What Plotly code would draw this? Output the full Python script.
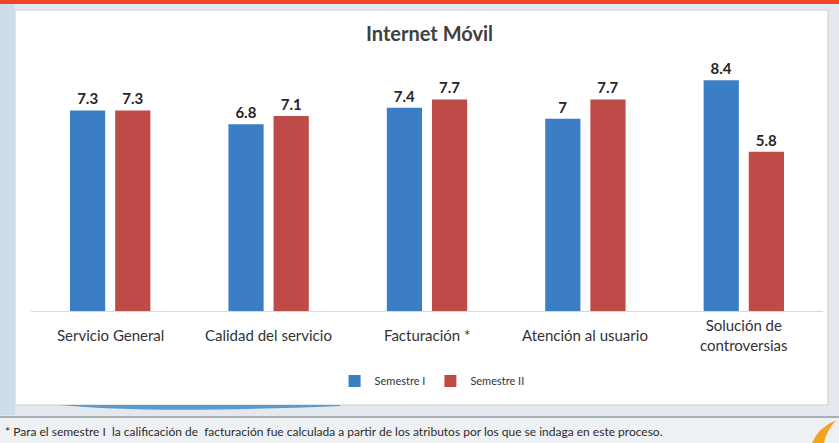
import plotly.graph_objects as go

W, H = 839, 443

categorias = ["Servicio General", "Calidad del servicio", "Facturación *",
              "Atención al usuario", "Solución de<br>controversias"]
semestre_1 = [7.3, 6.8, 7.4, 7.0, 8.4]
semestre_2 = [7.3, 7.1, 7.7, 7.7, 5.8]
series = ["Semestre I", "Semestre II"]

AZUL = "#3C7EC6"
ROJO = "#BE4B48"
FONT = "Lato"


def px(x):
    return x / W


def py(y):
    return 1 - y / H


fig = go.Figure()

for nombre, valores, color in [(series[0], semestre_1, AZUL), (series[1], semestre_2, ROJO)]:
    fig.add_trace(go.Bar(
        x=categorias, y=valores, name=nombre,
        marker=dict(color=color, line=dict(width=0)),
        text=[f"{v:g}" for v in valores],
        textposition="outside",
        textfont=dict(family=FONT, size=15, color="#262626", weight="bold"),
        cliponaxis=False,
    ))

# category labels centred below the baseline
for c in categorias:
    fig.add_annotation(x=c, y=0, xref="x", yref="y", yshift=-24,
                       text=c, showarrow=False, yanchor="middle",
                       font=dict(family=FONT, size=15, color="#333333"))

shapes = [
    # white chart panel
    dict(type="rect", xref="paper", yref="paper", layer="below",
         x0=px(15), x1=px(828), y0=py(405), y1=py(10),
         fillcolor="white", line=dict(color="#c8ccd0", width=1)),
    # red strip at the top
    dict(type="rect", xref="paper", yref="paper", layer="below",
         x0=0, x1=1, y0=py(4), y1=1, fillcolor="#EE4524", line=dict(width=0)),
    # left light blue strip
    dict(type="rect", xref="paper", yref="paper", layer="below",
         x0=0, x1=px(15), y0=py(415), y1=py(4), fillcolor="#cfdde9", line=dict(width=0)),
    # blue swoosh under the panel
    dict(type="path", xref="paper", yref="paper", layer="below",
         path=f"M {px(60)},{py(405)} Q {px(150)},{py(414)} {px(340)},{py(406)} L {px(340)},{py(405)} Z",
         fillcolor="#5b9bd0", line=dict(width=0)),
    # grey line above the footnote
    dict(type="line", xref="paper", yref="paper", layer="below",
         x0=0, x1=1, y0=py(417), y1=py(417), line=dict(color="#a9aeb3", width=2)),
    # footnote band
    dict(type="rect", xref="paper", yref="paper", layer="below",
         x0=0, x1=1, y0=0, y1=py(418), fillcolor="#eef1f4", line=dict(width=0)),
    # orange mark bottom right
    dict(type="path", xref="paper", yref="paper", layer="below",
         path=f"M {px(812)},{py(443)} Q {px(818)},{py(428)} {px(836)},{py(420)} Q {px(826)},{py(432)} {px(824)},{py(443)} Z",
         fillcolor="#f2a41f", line=dict(width=0)),
]

fig.add_annotation(x=px(3), y=py(431), xref="paper", yref="paper",
                   xanchor="left", yanchor="middle", showarrow=False,
                   text="* Para el semestre I  la calificación de  facturación fue calculada a partir de los atributos por los que se indaga en este proceso.",
                   font=dict(family=FONT, size=12, color="#2b2b2b"))

fig.update_layout(
    width=W, height=H,
    margin=dict(l=0, r=0, t=0, b=0),
    paper_bgcolor="#e3e9ef",
    plot_bgcolor="rgba(0,0,0,0)",
    shapes=shapes,
    title=dict(text="Internet Móvil", x=0.512, xanchor="center", y=py(34), yanchor="middle",
               font=dict(family=FONT, size=20, color="#404040", weight="bold")),
    barmode="group",
    bargap=0.43,
    bargroupgap=0.22,
    showlegend=True,
    legend=dict(orientation="h", x=0.515, xanchor="center", y=py(381), yanchor="middle",
                font=dict(family=FONT, size=11, color="#333333"),
                bgcolor="rgba(0,0,0,0)", itemwidth=30, tracegroupgap=0),
    xaxis=dict(domain=[px(31), px(823)], showticklabels=False, ticks="",
               showline=True, linecolor="#d9d9d9", linewidth=1, showgrid=False),
    yaxis=dict(domain=[py(311), py(50)], range=[0, 9.5], visible=False, showgrid=False),
    font=dict(family=FONT),
)

fig.write_html("out.html", config={"displayModeBar": False},
               post_script="document.body.style.margin='0px';")
